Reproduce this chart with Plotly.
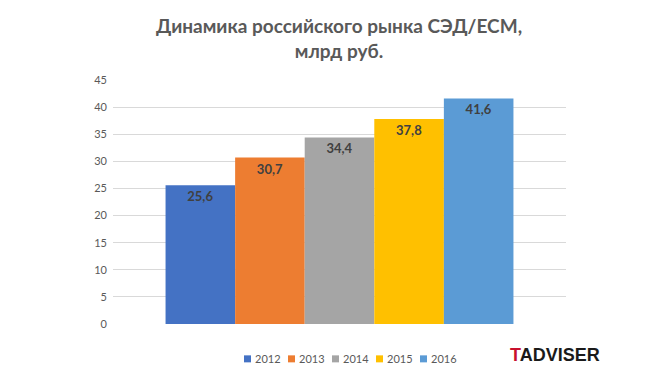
import plotly.graph_objects as go

years = ["2012", "2013", "2014", "2015", "2016"]
values = [25.6, 30.7, 34.4, 37.8, 41.6]
labels = ["25,6", "30,7", "34,4", "37,8", "41,6"]
colors = ["#4472C4", "#ED7D31", "#A5A5A5", "#FFC000", "#5B9BD5"]
y_ticks = [0, 5, 10, 15, 20, 25, 30, 35, 40, 45]

fig = go.Figure()
for yr, v, lab, c in zip(years, values, labels, colors):
    fig.add_trace(go.Bar(
        x=[""], y=[v], name=yr, marker=dict(color=c, line=dict(width=0)),
        text=[lab], textposition="inside", insidetextanchor="end",
        textfont=dict(family="Lato", size=13, color="#404040", weight="bold"),
        showlegend=False,
    ))

fig.update_layout(
    width=654, height=374,
    margin=dict(l=105, r=96, t=72, b=58),
    paper_bgcolor="white", plot_bgcolor="white",
    barmode="group", bargap=0.232, bargroupgap=0,
    xaxis=dict(showticklabels=False, showgrid=False, zeroline=False, showline=False),
    yaxis=dict(
        range=[0, 45], tickvals=y_ticks, showgrid=True, gridcolor="#D9D9D9",
        gridwidth=1, zeroline=False, showline=False, ticks="",
        ticklabelstandoff=5,
        tickfont=dict(family="Lato", size=11, color="#595959"),
    ),
    showlegend=False,
    uniformtext=dict(mode=False),
)

# Title
fig.add_annotation(
    text="Динамика российского рынка СЭД/ЕСМ,<br>млрд руб.",
    xref="paper", yref="paper", x=0.499, y=1.174, xanchor="center", yanchor="middle",
    showarrow=False,
    font=dict(family="Lato", size=19, color="#595959", weight="bold"),
)

# Legend (manual, compact like the original)
leg_x0 = 0.2892
leg_dx = 44 / 453
for i, (yr, c) in enumerate(zip(years, colors)):
    x = leg_x0 + i * leg_dx
    fig.add_shape(type="rect", xref="paper", yref="paper",
                  x0=x, x1=x + 7 / 453, y0=-0.1285, y1=-0.1572,
                  fillcolor=c, line=dict(width=0))
    fig.add_annotation(text=yr, xref="paper", yref="paper",
                       x=x + 9 / 453, y=-0.1428, xanchor="left", yanchor="middle",
                       showarrow=False,
                       font=dict(family="Lato", size=11, color="#595959"))

# Logo
fig.add_annotation(
    text="<b><span style='color:#C8102E'>T</span>ADVISER</b>",
    xref="paper", yref="paper", x=1.0795, y=-0.127, xanchor="right", yanchor="middle",
    showarrow=False, font=dict(family="Liberation Sans", size=18, color="#1a1a1a"),
)

fig.write_html("out.html")
